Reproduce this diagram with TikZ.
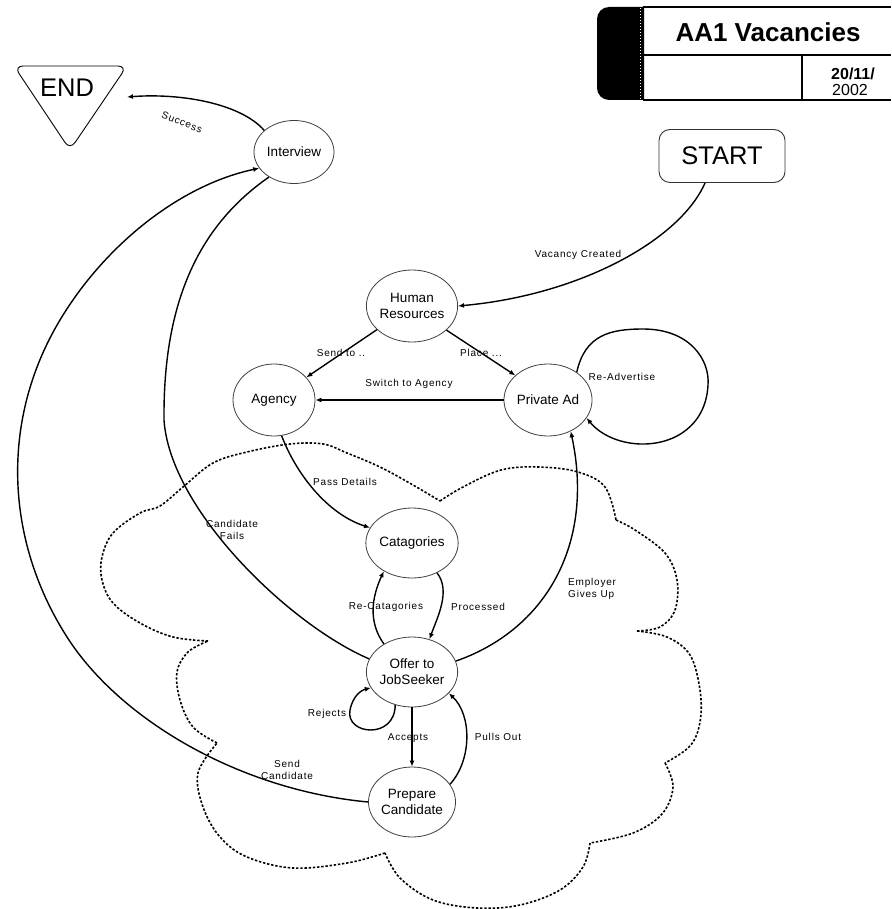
\documentclass[tikz,border=0pt]{standalone}
\usepackage{fontspec}
\setmainfont{Liberation Sans}
\newfontfamily\lblfont[LetterSpace=8]{Liberation Sans}
\usetikzlibrary{arrows.meta,shapes.geometric}

\begin{document}
\begin{tikzpicture}[x=1pt,y=-1pt,
  state/.style={ellipse, draw=black!75, line width=0.8pt, fill=white, inner sep=0pt,
    minimum width=84pt, minimum height=70pt, align=center,
    font=\fontsize{13.5}{16}\selectfont},
  flow/.style={line width=1.4pt, -{Latex[length=6pt,width=5pt]}},
  plainflow/.style={line width=1.4pt},
  lbl/.style={font=\fontsize{10}{12}\lblfont, inner sep=0pt, align=center},
  cloudline/.style={line width=1.6pt, dash pattern=on 2.4pt off 1.8pt, line cap=butt},
  rule/.style={line width=1.3pt},
  bigtext/.style={font=\fontsize{25.5}{28}\selectfont}
]
\useasboundingbox (0,0) rectangle (891,909);

% ---- title block ----
\fill (644,7) -- (609,7) arc[start angle=-90,end angle=-180,radius=12]
      -- (597,88) arc[start angle=180,end angle=90,radius=12] -- (644,100) -- cycle;
\draw[white, line width=1.2pt, dash pattern=on 1.5pt off 1.5pt] (640.5,8) -- (640.5,99);
\draw[rule] (643,7) -- (891,7);
\draw[rule] (643,55) -- (891,55);
\draw[rule] (643,100) -- (891,100);
\draw[rule] (802,55) -- (802,100);
\node[font=\fontsize{26}{28}\selectfont\bfseries] (title) at (768,32) {AA1 Vacancies};
\node[font=\fontsize{16}{18}\selectfont\bfseries, inner sep=0pt] (dateA) at (853,74) {20/11/};
\node[font=\fontsize{16}{18}\selectfont, inner sep=0pt] (dateB) at (850,90) {2002};

% ---- dotted boundary ----
\draw[cloudline] plot[smooth, tension=0.6] coordinates {(208,641) (173,637) (140,623) (113,603) (102,580) (102,557) (113,533) (140,513) (160,506) (183,487) (213,463) (247,452) (290,444) (323,444) (347,453) (380,467) (413,485) (440,501)};
\draw[cloudline] plot[smooth, tension=0.6] coordinates {(440,501) (463,487) (501,470) (539,467) (578,472) (605,487) (616,520)};
\draw[cloudline] plot[smooth, tension=0.6] coordinates {(616,520) (635,530) (665,553) (677,580) (675,610) (660,627) (637,631)};
\draw[cloudline] plot[smooth, tension=0.6] coordinates {(637,631) (667,637) (690,655) (700,690) (700,722) (690,746) (665,763)};
\draw[cloudline] plot[smooth, tension=0.6] coordinates {(665,763) (673,787) (662,814) (633,833) (590,843)};
\draw[cloudline] plot[smooth, tension=0.6] coordinates {(590,843) (583,867) (560,890) (520,905) (477,908) (433,900) (400,878) (385,853)};
\draw[cloudline] plot[smooth, tension=0.6] coordinates {(385,853) (347,863) (293,868) (247,857) (220,837) (203,807) (198,773) (217,743)};
\draw[cloudline] plot[smooth, tension=0.6] coordinates {(217,743) (193,727) (180,700) (177,672) (188,652) (208,641)};

% ---- terminals ----
\draw[line width=0.9pt, rounded corners=9pt] (14,66) -- (127,66) -- (70,150) -- cycle;
\node[bigtext] (end) at (67,88) {END};
\coordinate (endtip) at (127,97);
\node[draw=black!80, line width=0.9pt, rounded corners=11pt, minimum width=126pt,
      minimum height=53pt, bigtext] (start) at (722,156) {START};

% ---- states ----
\node[state, minimum width=80pt, minimum height=63pt] (interview) at (294,152) {Interview};
\node[state, minimum width=82pt, minimum height=72pt] (hr) at (412,306) {Human\\Resources};
\node[state, minimum width=82pt, minimum height=72pt] (agency) at (274,400) {Agency};
\node[state, minimum width=82pt, minimum height=72pt] (privad) at (548,400) {Private Ad};
\node[state] (cat) at (412,543) {Catagories};
\node[state] (offer) at (412,672) {Offer to\\JobSeeker};
\node[state] (prep) at (412,802) {Prepare\\Candidate};

% ---- transitions ----
\draw[flow] ([xshift=-17pt]start.south) .. controls (680,240) and (580,295) .. (hr.east);
\draw[flow] (hr.-146) -- (agency.35);
\draw[flow] (hr.-35) -- (privad.143);
\draw[flow] (privad.west) -- (agency.east);
\draw[flow] (privad.44) .. controls (585,335) and (610,329) .. (643,329)
   .. controls (690,329) and (710,360) .. (708,385)
   .. controls (706,425) and (675,445) .. (640,444)
   .. controls (615,443) and (598,432) .. (privad.-25);
\draw[flow] (agency.-78) .. controls (298,478) and (330,515) .. (cat.160);
\draw[plainflow] (offer.163) .. controls (290,625) and (170,510) .. (164,420)
   .. controls (163,300) and (200,225) .. (interview.-135);
\draw[flow] (prep.west) .. controls (240,790) and (120,720) .. (67,637)
   .. controls (5,540) and (0,420) .. (60,320)
   .. controls (105,245) and (180,185) .. (interview.-155);
\draw[flow] (interview.144) .. controls (240,103) and (180,93) .. (endtip);
\draw[flow] (cat.-50) .. controls +(14,18) and +(8,-22) .. (offer.62);
\draw[flow] (offer.135) .. controls +(-16,-22) and +(-12,26) .. (cat.-135);
\draw[flow] (offer.14) .. controls (545,630) and (595,545) .. (privad.-54);
\draw[flow] (offer.-117) .. controls (395,740) and (345,735) .. (350,710)
   .. controls (353,695) and (362,690) .. (offer.-159);
\draw[flow] (offer.south) -- (prep.north);
\draw[flow] (prep.25) .. controls (472,760) and (472,715) .. (offer.-30);

% ---- labels ----
\node[lbl] (lVac) at (578,255) {Vacancy Created};
\node[lbl] (lSend) at (341,353) {Send to ..};
\node[lbl] (lPlace) at (481,353) {Place ...};
\node[lbl] (lSwitch) at (409,384) {Switch to Agency};
\node[lbl] (lRead) at (622,377) {Re-Advertise};
\node[lbl] (lPass) at (345,482) {Pass Details};
\node[lbl] (lFail) at (232,530) {Candidate\\Fails};
\node[lbl, rotate=-22] (lSucc) at (182,122) {Success};
\node[lbl] (lRecat) at (386,607) {Re-Catagories};
\node[lbl] (lProc) at (478,607) {Processed};
\node[lbl, anchor=west, align=left] (lEmp) at (568,589) {Employer\\Gives Up};
\node[lbl] (lRej) at (327,714) {Rejects};
\node[lbl] (lAcc) at (408,738) {Accepts};
\node[lbl] (lPull) at (498,737) {Pulls Out};
\node[lbl] (lSendC) at (287,770) {Send\\Candidate};
\end{tikzpicture}
\end{document}
